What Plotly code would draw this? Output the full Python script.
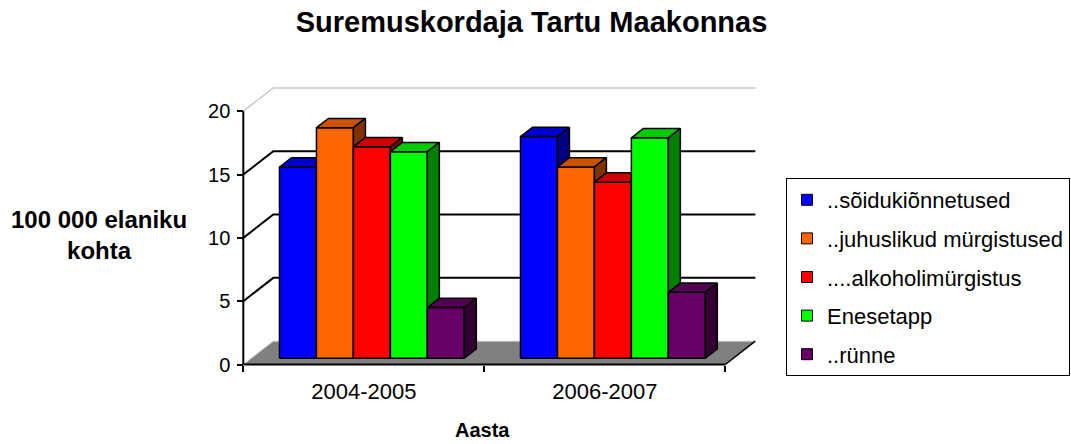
import plotly.graph_objects as go

# ---------------- data ----------------
categories = ["2004-2005", "2006-2007"]
series_names = ["..sõidukiõnnetused", "..juhuslikud mürgistused",
                "....alkoholimürgistus", "Enesetapp", "..rünne"]
soidukionnetused = [15.1, 17.5]
juhuslikud_myrgistused = [18.2, 15.1]
alkoholimyrgistus = [16.7, 13.9]
enesetapp = [16.3, 17.4]
rynne = [4.0, 5.2]
y_ticks = [0, 5, 10, 15, 20]

series_values = [soidukionnetused, juhuslikud_myrgistused, alkoholimyrgistus, enesetapp, rynne]

# ---------------- style ----------------
colors = ["#0000FF", "#FF6600", "#FF0000", "#00FF00", "#660066"]
FONT = "Liberation Sans, Arial, sans-serif"


def shade(hexc, f):
    r, g, b = int(hexc[1:3], 16), int(hexc[3:5], 16), int(hexc[5:7], 16)
    return "rgb(%d,%d,%d)" % (round(r * f), round(g * f), round(b * f))


# pixel geometry of the front plane
X0PX, Y0PX = 243.3, 364.5      # data (0,0)
UX, UY = 241.0, 12.665         # px per category / per value unit
L, R_EDGE, T, B_EDGE = 212, 780, 60, 400
W, H = R_EDGE - L, B_EDGE - T
xr = [(L - X0PX) / UX, (R_EDGE - X0PX) / UX]
yr = [(Y0PX - B_EDGE) / UY, (Y0PX - T) / UY]

DX = 30.0 / UX                 # full depth offset (x units)
DY = 23.3 / UY                 # full depth offset (y units)
F0, F1 = 0.27, 0.67            # bar depth extent
NS = len(series_names)
BW = 0.1534                    # bar width (category units)
START = (1 - NS * BW) / 2
NCAT = len(categories)
TMAX = max(y_ticks)


def ppx(px):
    return (px - L) / W


def ppy(py):
    return (B_EDGE - py) / H


fig = go.Figure()


def poly(xs, ys, fill, line_color="black", lw=1.5):
    fig.add_trace(go.Scatter(
        x=xs + [xs[0]], y=ys + [ys[0]], mode="lines", fill="toself",
        fillcolor=fill, line=dict(color=line_color, width=lw),
        hoverinfo="skip", showlegend=False))


def line(xs, ys, color, lw):
    fig.add_trace(go.Scatter(
        x=xs, y=ys, mode="lines", line=dict(color=color, width=lw),
        hoverinfo="skip", showlegend=False))


# floor
fig.add_trace(go.Scatter(
    x=[0, NCAT, NCAT + DX, DX, 0], y=[0, 0, DY, DY, 0], mode="lines",
    fill="toself", fillcolor="#808080", line=dict(width=0),
    hoverinfo="skip", showlegend=False))
line([0, DX, NCAT + DX], [0, DY, DY], "#C8C8C8", 1)
line([NCAT, NCAT + DX], [0, DY], "black", 1.5)

# wall gridlines
for v in y_ticks[1:-1]:
    line([0, DX, NCAT + DX], [v, v + DY, v + DY], "black", 2)
line([0, DX, NCAT + DX], [TMAX, TMAX + DY, TMAX + DY], "#C8C8C8", 1.5)

# bars (left to right so that each bar hides the previous bar's side)
sx0, sy0 = F0 * DX, F0 * DY
sx1, sy1 = F1 * DX, F1 * DY
for c in range(NCAT):
    for s in range(NS):
        v = series_values[s][c]
        x0 = c + START + s * BW
        x1 = x0 + BW
        col = colors[s]
        # front
        poly([x0 + sx0, x1 + sx0, x1 + sx0, x0 + sx0],
             [sy0, sy0, v + sy0, v + sy0], col)
        # top
        poly([x0 + sx0, x1 + sx0, x1 + sx1, x0 + sx1],
             [v + sy0, v + sy0, v + sy1, v + sy1], shade(col, 0.8))
        # side
        poly([x1 + sx0, x1 + sx1, x1 + sx1, x1 + sx0],
             [sy0, sy1, v + sy1, v + sy0], shade(col, 0.5))

# front axis lines
line([0, 0], [0, TMAX], "black", 2)
line([0, NCAT], [0, 0], "black", 2)

# legend entries
for name, col in zip(series_names, colors):
    fig.add_trace(go.Scatter(
        x=[None], y=[None], mode="markers", name=name, legendgroup=name,
        marker=dict(symbol="square", size=11, color=col,
                    line=dict(color="black", width=1))))

fig.update_layout(
    width=1071, height=444,
    margin=dict(l=L, r=1071 - R_EDGE, t=T, b=444 - B_EDGE, autoexpand=False),
    paper_bgcolor="white", plot_bgcolor="white",
    font=dict(family=FONT, color="black"),
    title=dict(text="<b>Suremuskordaja Tartu Maakonnas</b>",
               font=dict(size=29, family=FONT, color="black"),
               x=531.5 / 1071, xanchor="center",
               y=1 - 22 / 444, yanchor="middle"),
    xaxis=dict(range=xr, anchor="free", position=(0 - yr[0]) / (yr[1] - yr[0]),
               showgrid=False, zeroline=False, showline=False,
               tickmode="array", tickvals=[c + 0.5 for c in range(NCAT)],
               ticktext=categories, ticks="", tickfont=dict(size=22, family=FONT),
               minor=dict(tickmode="array", tickvals=list(range(NCAT + 1)),
                          ticks="outside", ticklen=6, tickwidth=2,
                          tickcolor="black", showgrid=False),
               ticklabelstandoff=11, fixedrange=True),
    yaxis=dict(range=yr, anchor="free", position=(0 - xr[0]) / (xr[1] - xr[0]),
               showgrid=False, zeroline=False, showline=False,
               tickmode="array", tickvals=y_ticks, ticks="outside",
               ticklen=6, tickwidth=2, tickcolor="black",
               tickfont=dict(size=20, family=FONT), ticklabelstandoff=3,
               fixedrange=True),
    legend=dict(xref="container", yref="container", x=1070 / 1071, xanchor="right",
                y=1 - 178 / 444, yanchor="top", bordercolor="black", borderwidth=1,
                font=dict(size=22, family=FONT, color="black"),
                tracegroupgap=7, traceorder="grouped", bgcolor="white"),
    annotations=[
        dict(text="<b>100 000 elaniku<br>kohta</b>", x=ppx(98.5), y=ppy(235),
             xref="paper", yref="paper", showarrow=False,
             font=dict(size=24, family=FONT, color="black"),
             xanchor="center", yanchor="middle", align="center"),
        dict(text="<b>Aasta</b>", x=ppx(482), y=ppy(443), xref="paper", yref="paper",
             showarrow=False, font=dict(size=20, family=FONT, color="black"),
             xanchor="center", yanchor="bottom"),
    ],
)

fig.write_html("out.html", config={"displayModeBar": False},
               post_script="document.body.style.margin='0';document.body.style.overflow='hidden';")
